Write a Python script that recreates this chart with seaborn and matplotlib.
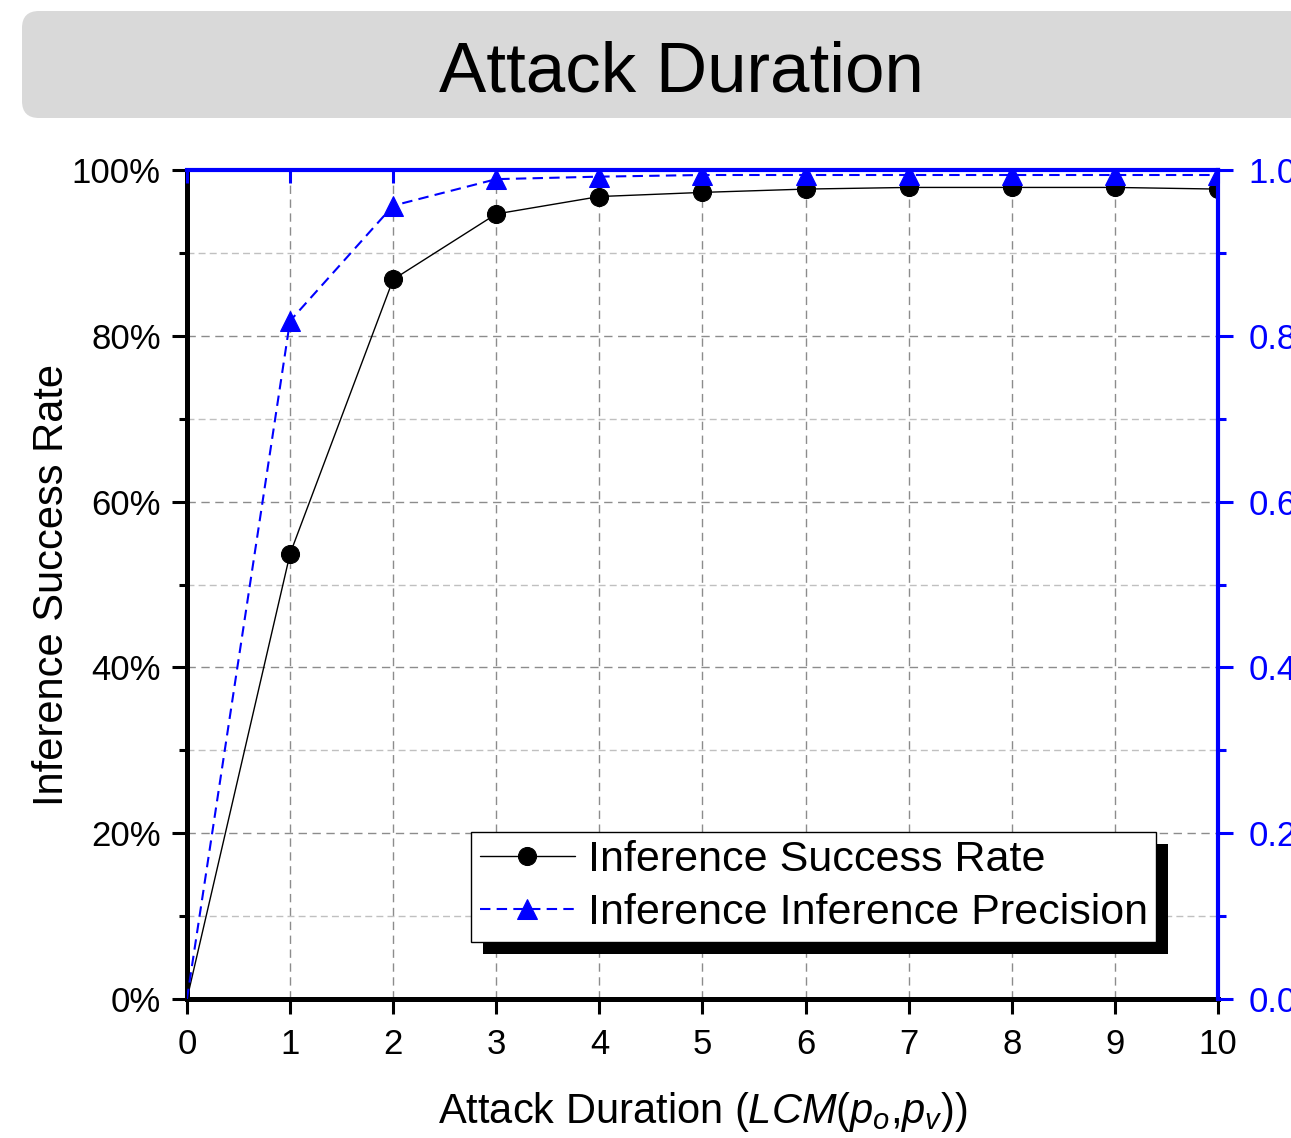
import matplotlib
matplotlib.use("Agg")
import matplotlib.pyplot as plt
import matplotlib.patches as mpatches
import matplotlib.patheffects as pe
from matplotlib.transforms import IdentityTransform
from matplotlib.ticker import MultipleLocator, PercentFormatter, FormatStrFormatter
import seaborn as sns
import pandas as pd

# values
duration = [0, 1, 2, 3, 4, 5, 6, 7, 8, 9, 10]
success_rate = [0, 53.7, 86.8, 94.7, 96.8, 97.3, 97.7, 97.9, 97.9, 97.9, 97.7]  # percent
precision = [0, 0.818, 0.957, 0.989, 0.992, 0.994, 0.994, 0.994, 0.994, 0.994, 0.994]

data = pd.DataFrame({'duration': duration, 'success': success_rate, 'precision': precision})

sns.set_theme(style="white")
plt.rcParams['font.family'] = ['Liberation Sans', 'DejaVu Sans']
plt.rcParams['mathtext.fontset'] = 'custom'
plt.rcParams['mathtext.rm'] = 'Liberation Sans'
plt.rcParams['mathtext.it'] = 'Liberation Sans:italic'
plt.rcParams['text.color'] = 'black'
plt.rcParams['axes.labelcolor'] = 'black'
plt.rcParams['xtick.color'] = 'black'
plt.rcParams['ytick.color'] = 'black'

fig = plt.figure(figsize=(12.91, 11.38), dpi=100)
ax = fig.add_axes([0.1448, 0.1221, 0.9435 - 0.1448, 0.8506 - 0.1221])
ax2 = ax.twinx()

# title banner
banner = mpatches.FancyBboxPatch((22, 1138 - 118), 1320, 107,
                                 boxstyle='round,pad=0,rounding_size=17',
                                 transform=IdentityTransform(),
                                 facecolor='#d9d9d9', edgecolor='none')
fig.add_artist(banner)
fig.text(0.528, 1 - 92 / 1138, 'Attack Duration', ha='center', va='baseline', fontsize=51)

marks = list(range(1, len(duration)))

sns.lineplot(data=data, x='duration', y='success', ax=ax, color='black', lw=1.0,
             marker='o', markersize=13, markeredgecolor='black', markevery=marks,
             label='Inference Success Rate', legend=False, zorder=5)
sns.lineplot(data=data, x='duration', y='precision', ax=ax2, color='blue', lw=1.5,
             linestyle=(0, (5, 3)), marker='^', markersize=14, markeredgecolor='blue',
             markevery=marks, label='Inference Inference Precision', legend=False, zorder=5)

ax.set_xlim(0, 10)
ax.set_ylim(0, 100)
ax2.set_ylim(0, 1)

ax.xaxis.set_major_locator(MultipleLocator(1))
ax.yaxis.set_major_locator(MultipleLocator(20))
ax.yaxis.set_minor_locator(MultipleLocator(10))
ax.yaxis.set_major_formatter(PercentFormatter(100, decimals=0))
ax2.yaxis.set_major_locator(MultipleLocator(0.2))
ax2.yaxis.set_minor_locator(MultipleLocator(0.1))
ax2.yaxis.set_major_formatter(FormatStrFormatter('%.1f'))

# grid
ax.grid(which='major', axis='x', color='#8c8c8c', lw=1, linestyle=(0, (6, 4)))
ax.grid(which='major', axis='y', color='#8c8c8c', lw=1, linestyle=(0, (6, 4)))
ax.grid(which='minor', axis='y', color='#c0c0c0', lw=1, linestyle=(0, (5, 3)))
ax.set_axisbelow(True)

# spines
for s in ['top', 'right']:
    ax.spines[s].set_visible(False)
for s in ['left', 'bottom']:
    ax.spines[s].set_linewidth(3.6)
    ax.spines[s].set_color('black')
    ax2.spines[s].set_visible(False)
for s in ['top', 'right']:
    ax2.spines[s].set_linewidth(3.0)
    ax2.spines[s].set_color('blue')

# ticks
ax.tick_params(axis='both', which='major', direction='out', length=10.8, width=2.2,
               color='black', labelcolor='black', labelsize=25, pad=8, left=True, bottom=True)
ax.tick_params(axis='y', which='minor', direction='out', length=5.8, width=2.2,
               color='black', left=True)
ax.tick_params(axis='x', pad=10)
ax2.tick_params(axis='y', which='major', direction='out', length=10.8, width=2.2,
                color='blue', labelcolor='blue', labelsize=25, pad=11, right=True)
ax2.tick_params(axis='y', which='minor', direction='out', length=5.8, width=2.2,
                color='blue', right=True)
ax2.xaxis.set_visible(True)
ax2.xaxis.tick_top()
ax2.tick_params(axis='x', which='major', direction='in', length=9, width=2.2,
                color='blue', labeltop=False, top=True)
ax2.set_xlabel('')

# labels
ax.set_xlabel(r'Attack Duration ($LCM(p_o{,}p_v)$)', fontsize=30, va='baseline')
ax.xaxis.set_label_coords(0.5, (999 - 1123) / 829)
ax.set_ylabel('Inference Success Rate', fontsize=30, va='baseline')
ax.yaxis.set_label_coords((63 - 187) / 1031, 0.5)
ax2.set_ylabel('')

# legend with a solid offset shadow
h1, l1 = ax.get_legend_handles_labels()
h2, l2 = ax2.get_legend_handles_labels()
leg = ax2.legend(h1 + h2, l1 + l2, loc='lower right', bbox_to_anchor=(0.940, 0.0688),
                 borderaxespad=0, fontsize=31, frameon=True, fancybox=False,
                 edgecolor='black', framealpha=1, handlelength=2.2, handletextpad=0.3,
                 borderpad=0.2, labelspacing=0.3)
leg.get_frame().set_linewidth(1.0)
leg.get_frame().set_path_effects([pe.withSimplePatchShadow(offset=(8.6, -8.6),
                                                           shadow_rgbFace='black', alpha=1)])
leg.set_zorder(20)

fig.savefig('out.png', dpi=100)
